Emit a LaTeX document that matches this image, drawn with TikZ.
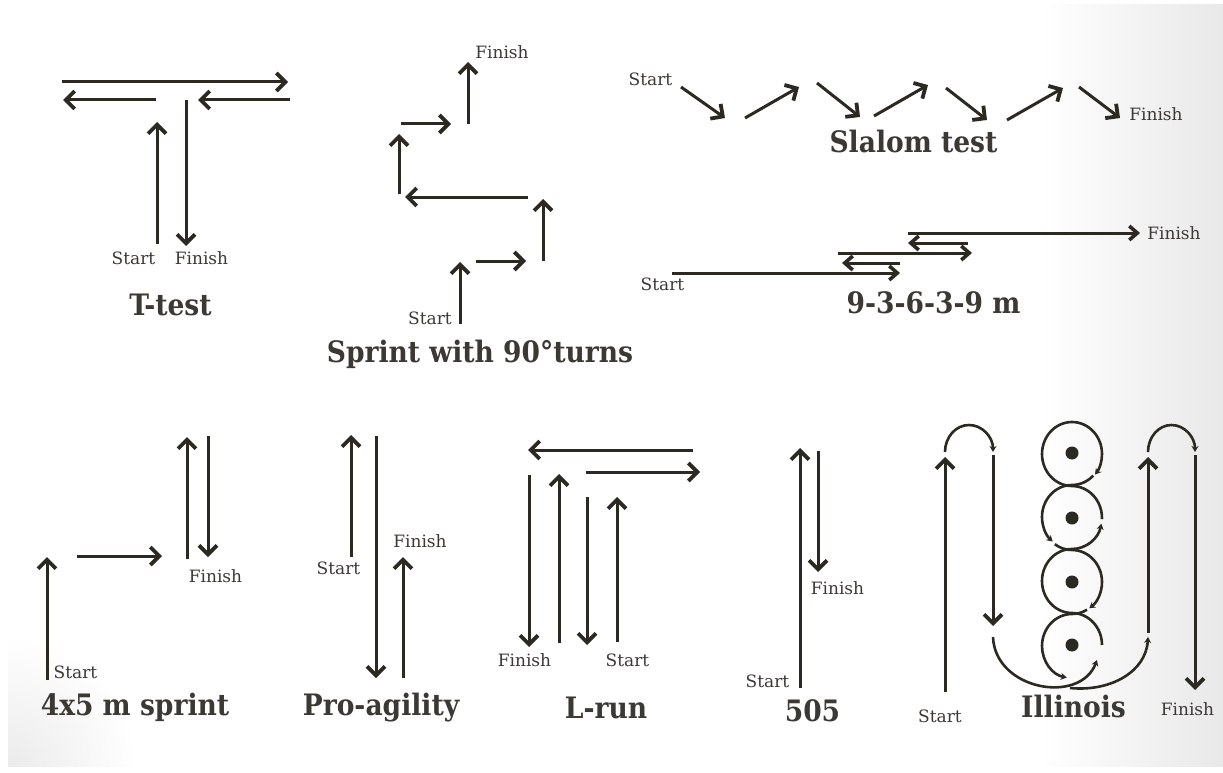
\documentclass[tikz,border=0pt]{standalone}
\usepackage{fontspec}
\setmainfont{DejaVu Serif}
\newfontfamily\headfont{DejaVu Serif Condensed}
\usepackage{tikz}
\usetikzlibrary{arrows.meta,calc}

\definecolor{ink}{RGB}{44,41,34}
\definecolor{txt}{RGB}{60,57,53}

\begin{document}
\begin{tikzpicture}[x=1pt, y=-1pt,
	run/.style={draw=ink, line width=3pt, -{Straight Barb[length=9pt, width=18pt, line width=3.8pt]}},
	shortrun/.style={draw=ink, line width=3pt, -{Straight Barb[length=8pt, width=14pt, line width=3.6pt]}},
	weave/.style={draw=ink, line width=2.6pt},
	small/.style={-{Stealth[length=6pt, width=7pt]}},
	lbl/.style={text=txt, font=\fontsize{17}{17}\selectfont, anchor=base, inner sep=0pt},
	ttl/.style={text=txt, font=\headfont\fontsize{29.5}{29.5}\selectfont\bfseries, anchor=base, inner sep=0pt}]

      % slide background
      \useasboundingbox (0,0) rectangle (1223,773);
      \fill[white] (0,0) rectangle (1223,773);
      \begin{scope}
	\clip (8,5) rectangle (1223,766);
	\shade[left color=white, right color=black!9] (1040,5) rectangle (1223,766);
	\shade[inner color=black!8, outer color=white] (8,766) circle[radius=130];
      \end{scope}

      % T-test
      \begin{scope}
	\draw[run] (62,82) -- (288,82);
	\draw[run] (156,100) -- (63,100);
	\draw[run] (290,100) -- (198,100);
	\draw[run] (157,244) -- (157,122);
	\draw[run] (186,100) -- (186,246);
	\node[lbl] at (133.5,264) (tstart) {Start};
	\node[lbl] at (201.5,264) (tfinish) {Finish};
	\node[ttl] at (170.5,315) (ttest) {T-test};
      \end{scope}

      % Sprint with 90 degree turns
      \begin{scope}
	\draw[run] (460,324) -- (460,262);
	\draw[run] (476,261) -- (526,261);
	\draw[run] (543,261) -- (543,199);
	\draw[run] (528,197) -- (405,197);
	\draw[run] (399,194) -- (399,134);
	\draw[run] (401,124) -- (451,124);
	\draw[run] (468,124) -- (468,62);
	\node[lbl] at (502,59) (sfinish) {Finish};
	\node[lbl] at (430,324) (sstart) {Start};
	\node[ttl] at (480,362) (sprint) {Sprint with 90°turns};
      \end{scope}

      % Slalom test
      \begin{scope}
	\draw[run] (681,87) -- (725,118);
	\draw[run] (745,118) -- (799,87);
	\draw[run] (817,83) -- (860,117);
	\draw[run] (874,116) -- (928,85);
	\draw[run] (946,88) -- (987,120);
	\draw[run] (1007,120) -- (1063,88);
	\draw[run] (1079,87) -- (1120,118);
	\node[lbl] at (650.5,86) (slstart) {Start};
	\node[lbl] at (1156,121) (slfinish) {Finish};
	\node[ttl] at (913.5,153) (slalom) {Slalom test};
      \end{scope}

      % 9-3-6-3-9 m
      \begin{scope}
	\draw[shortrun] (672,273) -- (900,273);
	\draw[shortrun] (900,263) -- (842,263);
	\draw[shortrun] (838,253) -- (972,253);
	\draw[shortrun] (968,243) -- (908,243);
	\draw[shortrun] (908,233) -- (1140,233);
	\node[lbl] at (662.5,290) (nstart) {Start};
	\node[lbl] at (1174,239) (nfinish) {Finish};
	\node[ttl] at (933.5,313) (nine) {9-3-6-3-9 m};
      \end{scope}

      % 4x5 m sprint
      \begin{scope}
	\draw[run] (47,680) -- (47,557);
	\draw[run] (77,556) -- (162,556);
	\draw[run] (187,559) -- (187,437);
	\draw[run] (208,436) -- (208,557);
	\node[lbl] at (215.5,582) (ffinish) {Finish};
	\node[lbl] at (75.5,678) (fstart) {Start};
	\node[ttl] at (135,715) (four) {4x5 m sprint};
      \end{scope}

      % Pro-agility
      \begin{scope}
	\draw[run] (351,557) -- (351,435);
	\draw[run] (376,436) -- (376,678);
	\draw[run] (403,678) -- (403,557);
	\node[lbl] at (338.5,574) (pstart) {Start};
	\node[lbl] at (420,547) (pfinish) {Finish};
	\node[ttl] at (381,715) (pro) {Pro-agility};
      \end{scope}

      % L-run
      \begin{scope}
	\draw[run] (693,450) -- (528,450);
	\draw[run] (586,472) -- (700,472);
	\draw[run] (529,475) -- (529,647);
	\draw[run] (559,643) -- (559,474);
	\draw[run] (587,497) -- (587,645);
	\draw[run] (617,642) -- (617,497);
	\node[lbl] at (524.5,666) (lfinish) {Finish};
	\node[lbl] at (627.5,666) (lstart) {Start};
	\node[ttl] at (606,718) (lrun) {L-run};
      \end{scope}

      % 505
      \begin{scope}
	\draw[run] (800,688) -- (800,448);
	\draw[run] (818,451) -- (818,572);
	\node[lbl] at (837.5,594) (ffinish5) {Finish};
	\node[lbl] at (767.5,687) (fstart5) {Start};
	\node[ttl] at (812.5,721) (five) {505};
      \end{scope}

      % Illinois
      \begin{scope}
	\coordinate (c1) at (1072,453);
	\coordinate (c2) at (1072,518);
	\coordinate (c3) at (1072,582);
	\coordinate (c4) at (1072,645);
	\foreach \c in {c1,c2,c3,c4}
	  \fill[ink] (\c) circle[radius=6.5];
	\draw[run] (945,692) -- (945,457);
	\draw[weave, small] (945,452) arc[start angle=180, end angle=360, x radius=24, y radius=27];
	\draw[run] (993,455) -- (993,626);
	\draw[weave, small] (993,637) .. controls (995,690) and (1080,705) .. (1097,660);
	% up round the cones
	\draw[weave, small] ($(c4)+(30,0)$) arc[start angle=0, end angle=-90, x radius=30, y radius=32]
	  arc[start angle=90, end angle=270, x radius=30, y radius=32]
	  arc[start angle=90, end angle=12, x radius=30, y radius=32];
	\draw[weave, small] ($(c2)+(2:30 and 32)$) arc[start angle=2, end angle=-90, x radius=30, y radius=32]
	  arc[start angle=90, end angle=400, x radius=30, y radius=32];
	% and back down
	\draw[weave, small] ($(c1)+(45:30 and 32)$) arc[start angle=45, end angle=90, x radius=30, y radius=32]
	  arc[start angle=-90, end angle=-230, x radius=30, y radius=32];
	\draw[weave, small] ($(c2)+(125:30 and 32)$) arc[start angle=-235, end angle=-270, x radius=30, y radius=32]
	  arc[start angle=-90, end angle=55, x radius=30, y radius=32];
	\draw[weave, small] ($(c3)+(60:30 and 32)$) arc[start angle=60, end angle=90, x radius=30, y radius=32]
	  arc[start angle=-90, end angle=-260, x radius=30, y radius=32];
	\draw[weave, small] (1070,688) .. controls (1110,692) and (1146,672) .. (1148,637);
	\draw[run] (1148,633) -- (1148,457);
	\draw[weave, small] (1148,452) arc[start angle=180, end angle=360, x radius=23.5, y radius=27];
	\draw[run] (1195,455) -- (1195,690);
	\node[lbl] at (940,722) (istart) {Start};
	\node[lbl] at (1187.5,715) (ifinish) {Finish};
	\node[ttl] at (1073.5,717) (illinois) {Illinois};
      \end{scope}

\end{tikzpicture}
\end{document}
